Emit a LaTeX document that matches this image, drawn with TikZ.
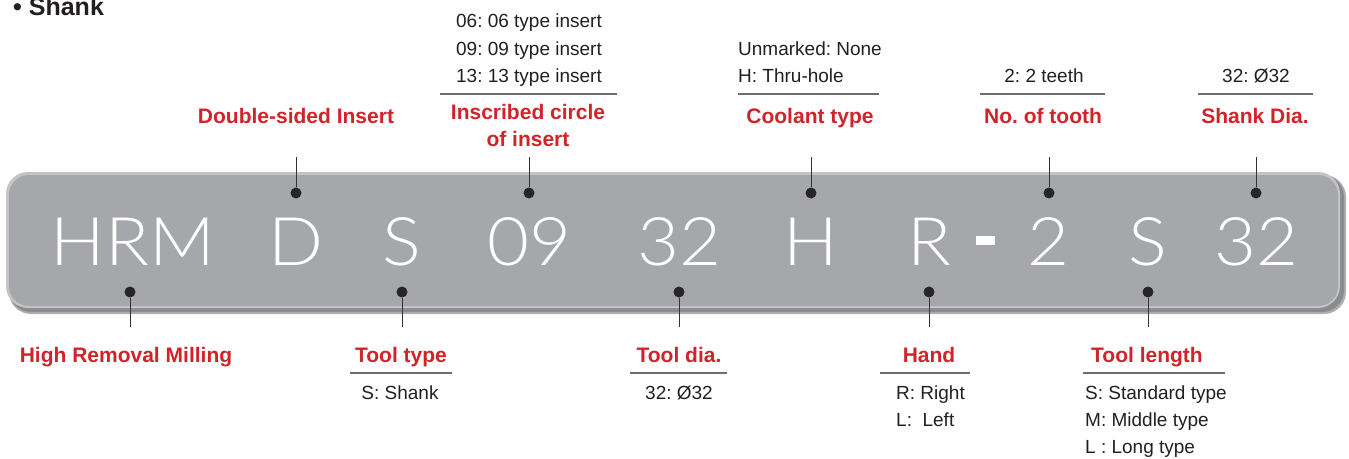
\documentclass[tikz,border=0pt]{standalone}
\usepackage{fontspec}
\setmainfont{Liberation Sans}
\newfontfamily\bigfont{Lato Light}[FakeStretch=1.08]
\definecolor{redc}{HTML}{D2232A}
\definecolor{txt}{HTML}{231F20}
\definecolor{barfill}{HTML}{A6A7AA}
\definecolor{barrim}{HTML}{C3C4C6}
\definecolor{barshadow}{HTML}{8A8B8E}
\definecolor{sep}{HTML}{6D6E71}
\frenchspacing
\begin{document}
\begin{tikzpicture}[x=1pt,y=-1pt,
  redlbl/.style={text=redc,font=\bfseries\fontsize{21}{27}\selectfont,anchor=base,inner sep=0pt},
  desc/.style={text=txt,font=\fontsize{19}{27}\selectfont,anchor=base,inner sep=0pt},
  descl/.style={desc,anchor=base west},
  big/.style={text=white,font=\bigfont\fontsize{67}{70}\selectfont,anchor=base,inner sep=0pt},
  dot/.style={circle,fill=black!85,inner sep=0pt,minimum size=11pt},
  conn/.style={draw=black!80,line width=1pt},
  sepline/.style={draw=sep,line width=1.3pt}]
\useasboundingbox (0,0) rectangle (1349,458);
% bar
\fill[barshadow!70] (9,175) [rounded corners=22pt] rectangle (1346,314);
\fill[barshadow] (9,175) [rounded corners=22pt] rectangle (1344,312);
\fill[barrim] (6,172) [rounded corners=22pt] rectangle (1340,308);
\fill[barfill] (9,175) [rounded corners=20pt] rectangle (1338,306);
% title
\node[text=txt,font=\bfseries\fontsize{25}{29}\selectfont,anchor=base west,inner sep=0pt] (title) at (13,15) {• Shank};
% big code letters
\node[big] (cHRM) at (133,265) {HRM};
\node[big] (cD) at (296,265) {D};
\node[big] (cS1) at (402,265) {S};
\node[big] (c09) at (529,265) {09};
\node[big] (c32a) at (679,265) {32};
\node[big] (cH) at (811,265) {H};
\node[big] (cR) at (929,265) {R};
\fill[white] (976,236) rectangle (995,245);
\node[big] (c2) at (1048,265) {2};
\node[big] (cS2) at (1148,265) {S};
\node[big] (c32b) at (1256,265) {32};
% top dots
\node[dot] (dD) at (296,193) {};
\node[dot] (d09) at (529,193) {};
\node[dot] (dH) at (811,193) {};
\node[dot] (d2) at (1049,193) {};
\node[dot] (d32b) at (1256,193) {};
% bottom dots
\node[dot] (dHRM) at (130,292) {};
\node[dot] (dS1) at (402,292) {};
\node[dot] (d32a) at (679,292) {};
\node[dot] (dR) at (929,292) {};
\node[dot] (dS2) at (1148,292) {};
% top line ends
\coordinate (eD) at (296,157);
\coordinate (e09) at (529,157);
\coordinate (eH) at (811,157);
\coordinate (e2) at (1049,157);
\coordinate (e32b) at (1256,157);
% bottom line ends
\coordinate (eHRM) at (130,327);
\coordinate (eS1) at (402,327);
\coordinate (e32a) at (679,327);
\coordinate (eR) at (929,327);
\coordinate (eS2) at (1148,327);
\foreach \n in {D,09,H,2,32b,HRM,S1,32a,R,S2}{\draw[conn] (d\n) -- (e\n);}
% top labels
\node[redlbl] (lD) at (296,123) {Double-sided Insert};
\node[desc] (t06) at (529,27) {06: 06 type insert};
\node[desc] (t09) at (529,55) {09: 09 type insert};
\node[desc] (t13) at (529,82) {13: 13 type insert};
\draw[sepline] (440,94) -- (617,94);
\node[redlbl] (l09a) at (528,119) {Inscribed circle};
\node[redlbl] (l09b) at (528,146) {of insert};
\node[descl] (tUn) at (738,55) {Unmarked: None};
\node[descl] (tTh) at (738,82) {H: Thru-hole};
\draw[sepline] (738,94) -- (879,94);
\node[redlbl] (lH) at (810,123) {Coolant type};
\node[desc] (t2) at (1044,82) {2: 2 teeth};
\draw[sepline] (980,94) -- (1105,94);
\node[redlbl] (l2) at (1043,123) {No. of tooth};
\node[desc] (t32b) at (1256,82) {32: Ø32};
\draw[sepline] (1198,94) -- (1313,94);
\node[redlbl] (l32b) at (1255,123) {Shank Dia.};
% bottom labels
\node[redlbl] (lHRM) at (126,362) {High Removal Milling};
\node[redlbl] (lS1) at (401,362) {Tool type};
\draw[sepline] (350,373) -- (452,373);
\node[desc] (tS1) at (400,399) {S: Shank};
\node[redlbl] (l32a) at (679,362) {Tool dia.};
\draw[sepline] (630,373) -- (727,373);
\node[desc] (t32a) at (679,399) {32: Ø32};
\node[redlbl] (lR) at (929,362) {Hand};
\draw[sepline] (880,373) -- (970,373);
\node[descl] (tR) at (896,399) {R: Right};
\node[descl] (tL) at (896,426) {L:\ \ Left};
\node[redlbl] (lS2) at (1147,362) {Tool length};
\draw[sepline] (1083,373) -- (1225,373);
\node[descl] (tSt) at (1085,399) {S: Standard type};
\node[descl] (tMi) at (1085,426) {M: Middle type};
\node[descl] (tLo) at (1085,453) {L : Long type};
\end{tikzpicture}
\end{document}
